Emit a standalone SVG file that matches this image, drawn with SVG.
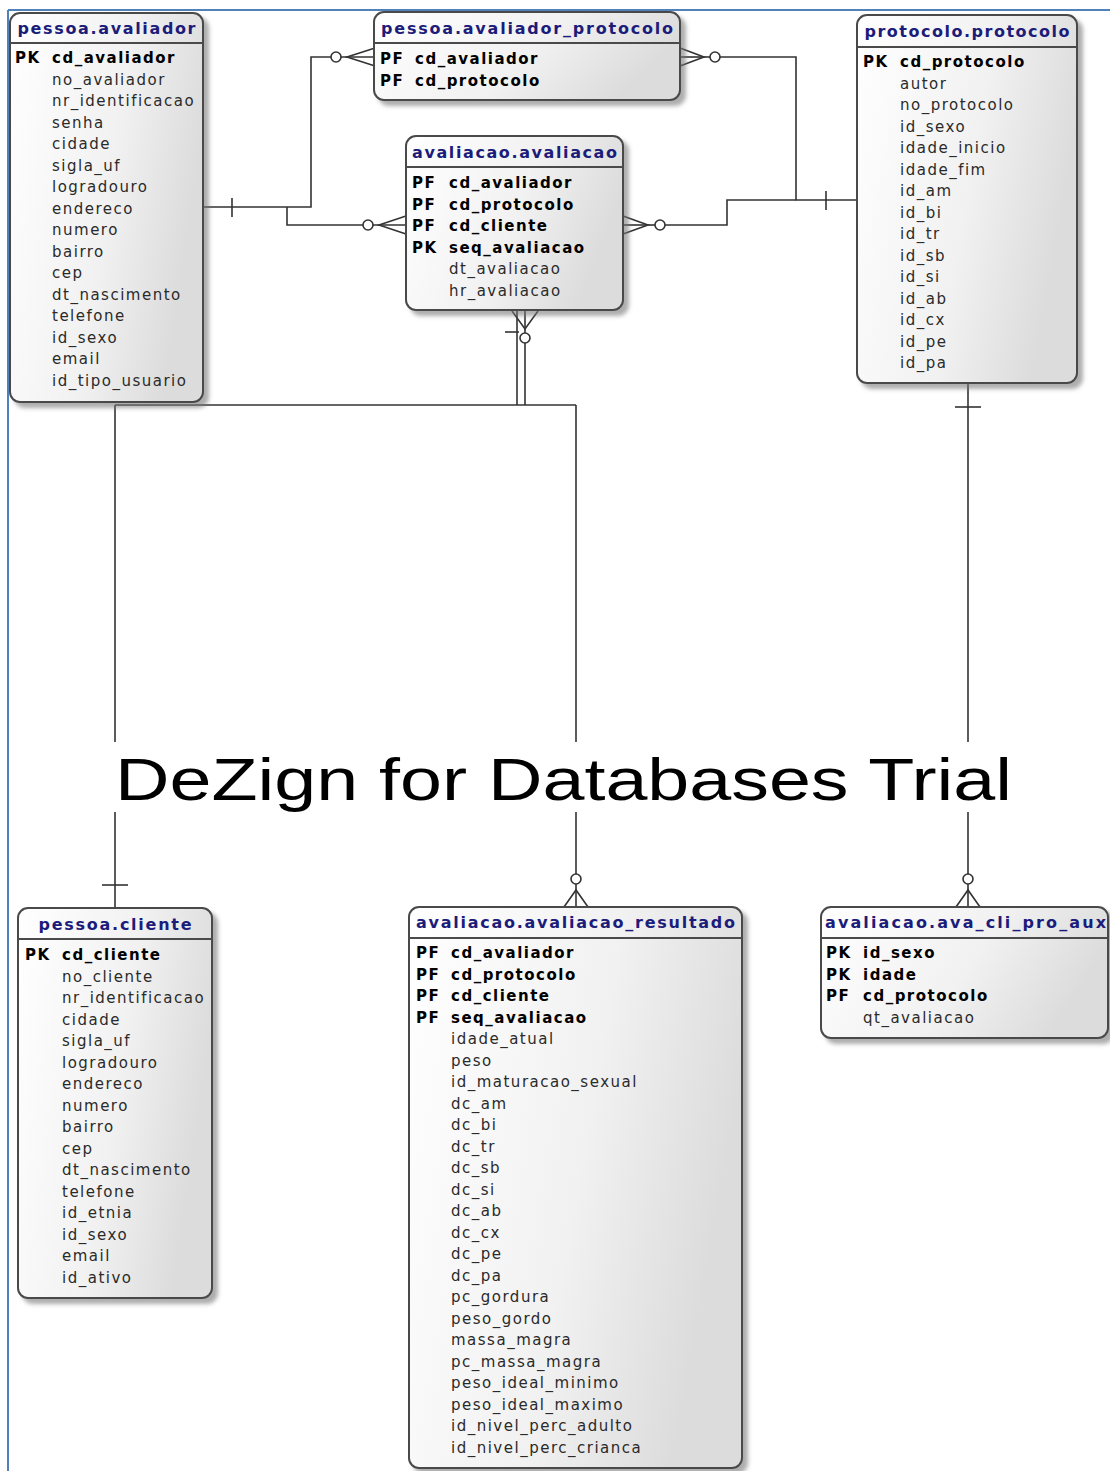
<svg xmlns="http://www.w3.org/2000/svg" width="1110" height="1471" viewBox="0 0 1110 1471">
<defs>
<linearGradient id="g" x1="0" y1="0" x2="1" y2="0.3">
<stop offset="0" stop-color="#ffffff"/>
<stop offset="0.6" stop-color="#f1f1f1"/>
<stop offset="1" stop-color="#dcdcdc"/>
</linearGradient>
<filter id="sh" x="-10%" y="-10%" width="130%" height="130%">
<feDropShadow dx="5" dy="5" stdDeviation="2" flood-color="#777" flood-opacity="0.6"/>
</filter>
</defs>
<style>
.tb{fill:url(#g);stroke:#4a4a4a;stroke-width:2;filter:url(#sh)}
.sep{stroke:#4a4a4a;stroke-width:2}
.hdr{font-family:"DejaVu Sans",sans-serif;font-weight:bold;font-size:16px;fill:#1c1c7a;text-anchor:middle}
.k{font-family:"DejaVu Sans",sans-serif;font-weight:bold;font-size:15px;fill:#000;letter-spacing:1.5px}
.c{font-family:"DejaVu Sans",sans-serif;font-size:15px;fill:#2a2a2a;letter-spacing:1.5px}
.ln{fill:none;stroke:#333;stroke-width:1.6}
.ci{fill:#fff;stroke:#333;stroke-width:1.6}
.wm{font-family:"Liberation Sans",sans-serif;font-size:60px;fill:#000}
</style>
<rect x="0" y="0" width="1110" height="1471" fill="#fff"/>
<line x1="8" y1="10" x2="1110" y2="10" stroke="#4f81bd" stroke-width="2"/>
<line x1="8" y1="10" x2="8" y2="1471" stroke="#4f81bd" stroke-width="2"/>

<g id="connectors">
<!-- avaliador -> avaliador_protocolo -->
<polyline class="ln" points="203,207 311,207 311,57 331,57"/>
<line class="ln" x1="232" y1="198" x2="232" y2="217"/>
<circle class="ci" cx="336" cy="57" r="5"/>
<polyline class="ln" points="375,48 347,57 375,66"/>
<line class="ln" x1="341" y1="57" x2="375" y2="57"/>
<!-- avaliador -> avaliacao -->
<polyline class="ln" points="287,207 287,225 363,225"/>
<circle class="ci" cx="368" cy="225" r="5"/>
<polyline class="ln" points="406,216 379,225 406,234"/>
<line class="ln" x1="373" y1="225" x2="406" y2="225"/>
<!-- protocolo -> avaliador_protocolo -->
<polyline class="ln" points="857,200 796,200 796,57 720,57"/>
<line class="ln" x1="826" y1="191" x2="826" y2="210"/>
<circle class="ci" cx="715" cy="57" r="5"/>
<polyline class="ln" points="680,48 704,57 680,66"/>
<line class="ln" x1="680" y1="57" x2="710" y2="57"/>
<!-- protocolo -> avaliacao -->
<polyline class="ln" points="796,200 727,200 727,225 665,225"/>
<circle class="ci" cx="660" cy="225" r="5"/>
<polyline class="ln" points="623,216 648,225 623,234"/>
<line class="ln" x1="623" y1="225" x2="655" y2="225"/>
<!-- avaliacao bottom -->
<line class="ln" x1="517" y1="311" x2="517" y2="405"/>
<line class="ln" x1="525" y1="343" x2="525" y2="405"/>
<circle class="ci" cx="525" cy="338" r="5"/>
<polyline class="ln" points="512,311 525,329 538,311"/>
<line class="ln" x1="525" y1="311" x2="525" y2="333"/>
<line class="ln" x1="505" y1="332" x2="519" y2="332"/>
<line class="ln" x1="115" y1="405" x2="576" y2="405"/>
<!-- to pessoa.cliente -->
<line class="ln" x1="115" y1="405" x2="115" y2="742"/>
<line class="ln" x1="115" y1="812" x2="115" y2="908"/>
<line class="ln" x1="102" y1="885" x2="128" y2="885"/>
<!-- to avaliacao_resultado -->
<line class="ln" x1="576" y1="405" x2="576" y2="742"/>
<line class="ln" x1="576" y1="812" x2="576" y2="874"/>
<circle class="ci" cx="576" cy="879" r="5"/>
<polyline class="ln" points="564,907 576,890 588,907"/>
<line class="ln" x1="576" y1="884" x2="576" y2="907"/>
<!-- protocolo -> ava_cli_pro_aux -->
<line class="ln" x1="968" y1="383" x2="968" y2="742"/>
<line class="ln" x1="968" y1="812" x2="968" y2="874"/>
<line class="ln" x1="955" y1="407" x2="981" y2="407"/>
<circle class="ci" cx="968" cy="879" r="5"/>
<polyline class="ln" points="956,907 968,890 980,907"/>
<line class="ln" x1="968" y1="884" x2="968" y2="907"/>
</g>

<g id="pessoa.avaliador">
<rect class="tb" x="10" y="13" width="193" height="389" rx="10"/>
<line class="sep" x1="10" y1="43" x2="203" y2="43"/>
<text class="hdr" x="106.5" y="34" textLength="178" lengthAdjust="spacing">pessoa.avaliador</text>
<text class="k" x="15" y="63">PK</text><text class="k" x="52" y="63">cd_avaliador</text>
<text class="c" x="52" y="84.5">no_avaliador</text>
<text class="c" x="52" y="106">nr_identificacao</text>
<text class="c" x="52" y="127.5">senha</text>
<text class="c" x="52" y="149">cidade</text>
<text class="c" x="52" y="170.5">sigla_uf</text>
<text class="c" x="52" y="192">logradouro</text>
<text class="c" x="52" y="213.5">endereco</text>
<text class="c" x="52" y="235">numero</text>
<text class="c" x="52" y="256.5">bairro</text>
<text class="c" x="52" y="278">cep</text>
<text class="c" x="52" y="299.5">dt_nascimento</text>
<text class="c" x="52" y="321">telefone</text>
<text class="c" x="52" y="342.5">id_sexo</text>
<text class="c" x="52" y="364">email</text>
<text class="c" x="52" y="385.5">id_tipo_usuario</text>
</g>

<g id="pessoa.avaliador_protocolo">
<rect class="tb" x="374" y="12" width="306" height="88" rx="10"/>
<line class="sep" x1="374" y1="43" x2="680" y2="43"/>
<text class="hdr" x="527" y="34" textLength="292" lengthAdjust="spacing">pessoa.avaliador_protocolo</text>
<text class="k" x="380" y="64">PF</text><text class="k" x="415" y="64">cd_avaliador</text>
<text class="k" x="380" y="85.5">PF</text><text class="k" x="415" y="85.5">cd_protocolo</text>
</g>

<g id="avaliacao.avaliacao">
<rect class="tb" x="406" y="136" width="217" height="174" rx="10"/>
<line class="sep" x1="406" y1="167" x2="623" y2="167"/>
<text class="hdr" x="514.5" y="158" textLength="205" lengthAdjust="spacing">avaliacao.avaliacao</text>
<text class="k" x="412" y="188">PF</text><text class="k" x="449" y="188">cd_avaliador</text>
<text class="k" x="412" y="209.5">PF</text><text class="k" x="449" y="209.5">cd_protocolo</text>
<text class="k" x="412" y="231">PF</text><text class="k" x="449" y="231">cd_cliente</text>
<text class="k" x="412" y="252.5">PK</text><text class="k" x="449" y="252.5">seq_avaliacao</text>
<text class="c" x="449" y="274">dt_avaliacao</text>
<text class="c" x="449" y="295.5">hr_avaliacao</text>
</g>

<g id="protocolo.protocolo">
<rect class="tb" x="857" y="15" width="220" height="368" rx="10"/>
<line class="sep" x1="857" y1="47" x2="1077" y2="47"/>
<text class="hdr" x="967" y="37" textLength="205" lengthAdjust="spacing">protocolo.protocolo</text>
<text class="k" x="863" y="67">PK</text><text class="k" x="900" y="67">cd_protocolo</text>
<text class="c" x="900" y="88.5">autor</text>
<text class="c" x="900" y="110">no_protocolo</text>
<text class="c" x="900" y="131.5">id_sexo</text>
<text class="c" x="900" y="153">idade_inicio</text>
<text class="c" x="900" y="174.5">idade_fim</text>
<text class="c" x="900" y="196">id_am</text>
<text class="c" x="900" y="217.5">id_bi</text>
<text class="c" x="900" y="239">id_tr</text>
<text class="c" x="900" y="260.5">id_sb</text>
<text class="c" x="900" y="282">id_si</text>
<text class="c" x="900" y="303.5">id_ab</text>
<text class="c" x="900" y="325">id_cx</text>
<text class="c" x="900" y="346.5">id_pe</text>
<text class="c" x="900" y="368">id_pa</text>
</g>

<g id="pessoa.cliente">
<rect class="tb" x="18" y="908" width="194" height="390" rx="10"/>
<line class="sep" x1="18" y1="939" x2="212" y2="939"/>
<text class="hdr" x="115" y="930" textLength="153" lengthAdjust="spacing">pessoa.cliente</text>
<text class="k" x="25" y="960">PK</text><text class="k" x="62" y="960">cd_cliente</text>
<text class="c" x="62" y="981.5">no_cliente</text>
<text class="c" x="62" y="1003">nr_identificacao</text>
<text class="c" x="62" y="1024.5">cidade</text>
<text class="c" x="62" y="1046">sigla_uf</text>
<text class="c" x="62" y="1067.5">logradouro</text>
<text class="c" x="62" y="1089">endereco</text>
<text class="c" x="62" y="1110.5">numero</text>
<text class="c" x="62" y="1132">bairro</text>
<text class="c" x="62" y="1153.5">cep</text>
<text class="c" x="62" y="1175">dt_nascimento</text>
<text class="c" x="62" y="1196.5">telefone</text>
<text class="c" x="62" y="1218">id_etnia</text>
<text class="c" x="62" y="1239.5">id_sexo</text>
<text class="c" x="62" y="1261">email</text>
<text class="c" x="62" y="1282.5">id_ativo</text>
</g>

<g id="avaliacao.avaliacao_resultado">
<rect class="tb" x="409" y="907" width="333" height="561" rx="10"/>
<line class="sep" x1="409" y1="938" x2="742" y2="938"/>
<text class="hdr" x="575.5" y="928" textLength="319" lengthAdjust="spacing">avaliacao.avaliacao_resultado</text>
<text class="k" x="416" y="958">PF</text><text class="k" x="451" y="958">cd_avaliador</text>
<text class="k" x="416" y="979.5">PF</text><text class="k" x="451" y="979.5">cd_protocolo</text>
<text class="k" x="416" y="1001">PF</text><text class="k" x="451" y="1001">cd_cliente</text>
<text class="k" x="416" y="1022.5">PF</text><text class="k" x="451" y="1022.5">seq_avaliacao</text>
<text class="c" x="451" y="1044">idade_atual</text>
<text class="c" x="451" y="1065.5">peso</text>
<text class="c" x="451" y="1087">id_maturacao_sexual</text>
<text class="c" x="451" y="1108.5">dc_am</text>
<text class="c" x="451" y="1130">dc_bi</text>
<text class="c" x="451" y="1151.5">dc_tr</text>
<text class="c" x="451" y="1173">dc_sb</text>
<text class="c" x="451" y="1194.5">dc_si</text>
<text class="c" x="451" y="1216">dc_ab</text>
<text class="c" x="451" y="1237.5">dc_cx</text>
<text class="c" x="451" y="1259">dc_pe</text>
<text class="c" x="451" y="1280.5">dc_pa</text>
<text class="c" x="451" y="1302">pc_gordura</text>
<text class="c" x="451" y="1323.5">peso_gordo</text>
<text class="c" x="451" y="1345">massa_magra</text>
<text class="c" x="451" y="1366.5">pc_massa_magra</text>
<text class="c" x="451" y="1388">peso_ideal_minimo</text>
<text class="c" x="451" y="1409.5">peso_ideal_maximo</text>
<text class="c" x="451" y="1431">id_nivel_perc_adulto</text>
<text class="c" x="451" y="1452.5">id_nivel_perc_crianca</text>
</g>

<g id="avaliacao.ava_cli_pro_aux">
<rect class="tb" x="821" y="907" width="287" height="131" rx="10"/>
<line class="sep" x1="821" y1="938" x2="1108" y2="938"/>
<text class="hdr" x="965.5" y="928" textLength="281" lengthAdjust="spacing">avaliacao.ava_cli_pro_aux</text>
<text class="k" x="826" y="958">PK</text><text class="k" x="863" y="958">id_sexo</text>
<text class="k" x="826" y="979.5">PK</text><text class="k" x="863" y="979.5">idade</text>
<text class="k" x="826" y="1001">PF</text><text class="k" x="863" y="1001">cd_protocolo</text>
<text class="c" x="863" y="1022.5">qt_avaliacao</text>
</g>

<text class="wm" x="115" y="800" textLength="897" lengthAdjust="spacingAndGlyphs">DeZign for Databases Trial</text>
</svg>
